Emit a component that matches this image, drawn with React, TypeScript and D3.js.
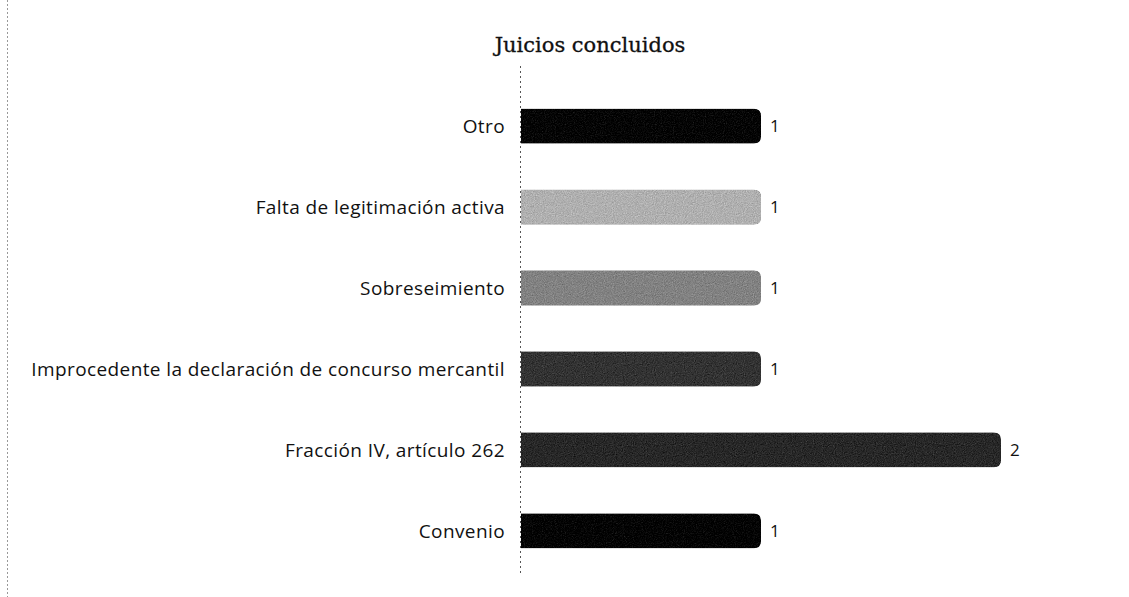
import React, { useEffect, useRef } from 'react';
import * as d3 from 'd3';

const categories = [
  'Otro',
  'Falta de legitimación activa',
  'Sobreseimiento',
  'Improcedente la declaración de concurso mercantil',
  'Fracción IV, artículo 262',
  'Convenio',
];
const values = [1, 1, 1, 1, 2, 1];
const barColors = ['#050505', '#b0b0b0', '#828282', '#333333', '#282828', '#040404'];
const title = 'Juicios concluidos';

const App = () => {
  const svgRef = useRef<SVGSVGElement>(null);

  useEffect(() => {
    const width = 1129, height = 597;
    const svg = d3.select(svgRef.current);
    svg.selectAll('*').remove();
    svg.attr('width', width).attr('height', height);

    svg.append('rect').attr('width', width).attr('height', height).attr('fill', '#fff');

    // scan-like texture for the bars
    const defs = svg.append('defs');
    const filter = defs.append('filter').attr('id', 'grain').attr('color-interpolation-filters', 'sRGB');
    filter.append('feTurbulence')
      .attr('type', 'fractalNoise').attr('baseFrequency', 0.9).attr('numOctaves', 2).attr('result', 'noise');
    filter.append('feColorMatrix').attr('in', 'noise').attr('type', 'matrix')
      .attr('values', '0.33 0.33 0.33 0 0  0.33 0.33 0.33 0 0  0.33 0.33 0.33 0 0  0 0 0 0 1')
      .attr('result', 'gray');
    filter.append('feComposite').attr('in', 'SourceGraphic').attr('in2', 'gray')
      .attr('operator', 'arithmetic').attr('k1', 0).attr('k2', 1).attr('k3', 0.5).attr('k4', -0.25).attr('result', 'mix');
    filter.append('feComposite').attr('in', 'mix').attr('in2', 'SourceGraphic').attr('operator', 'in');

    // page edge
    svg.append('line')
      .attr('x1', 7.5).attr('x2', 7.5).attr('y1', 0).attr('y2', height)
      .attr('stroke', '#999').attr('stroke-width', 1).attr('stroke-dasharray', '2,2');

    const x = d3.scaleLinear().domain([0, 2]).range([521, 1001]);
    const y = d3.scaleBand().domain(categories).range([86, 571]).paddingInner(0.57).paddingOuter(0.28);

    // title
    svg.append('text')
      .attr('x', 590).attr('y', 52)
      .attr('text-anchor', 'middle')
      .style('font-family', '"DejaVu Serif", "Liberation Serif", serif')
      .style('font-size', '21px')
      .style('fill', '#111')
      .style('stroke', '#111')
      .style('stroke-width', '0.3px')
      .text(title);

    // axis line
    svg.append('line')
      .attr('x1', 520.5).attr('x2', 520.5).attr('y1', 66).attr('y2', 576)
      .attr('stroke', '#555').attr('stroke-width', 1).attr('stroke-dasharray', '2,3');

    const r = 7;
    const barPath = (v: number, c: string) => {
      const x0 = x(0), x1 = x(v), y0 = y(c)!, h = y.bandwidth();
      return `M${x0},${y0}H${x1 - r}Q${x1},${y0} ${x1},${y0 + r}V${y0 + h - r}Q${x1},${y0 + h} ${x1 - r},${y0 + h}H${x0}Z`;
    };

    svg.append('g').selectAll('path')
      .data(categories)
      .enter().append('path')
      .attr('d', (c, i) => barPath(values[i], c))
      .attr('fill', (c, i) => barColors[i])
      .attr('filter', 'url(#grain)');

    // category labels
    svg.append('g').selectAll('text')
      .data(categories)
      .enter().append('text')
      .attr('x', 505)
      .attr('y', c => y(c)! + y.bandwidth() / 2)
      .attr('dy', '0.35em')
      .attr('text-anchor', 'end')
      .style('font-family', '"Open Sans", "Noto Sans", sans-serif')
      .style('font-size', '19px')
      .style('letter-spacing', '0.4px')
      .style('fill', '#111')
      .text(c => c);

    // value labels
    svg.append('g').selectAll('text')
      .data(categories)
      .enter().append('text')
      .attr('x', (c, i) => x(values[i]) + 9)
      .attr('y', c => y(c)! + y.bandwidth() / 2)
      .attr('dy', '0.35em')
      .style('font-family', '"Open Sans", "Noto Sans", sans-serif')
      .style('font-size', '17px')
      .style('fill', '#111')
      .text((c, i) => values[i]);
  }, []);

  return <svg ref={svgRef} style={{ position: 'absolute', left: 0, top: 0, display: 'block' }}></svg>;
};

export default App;
